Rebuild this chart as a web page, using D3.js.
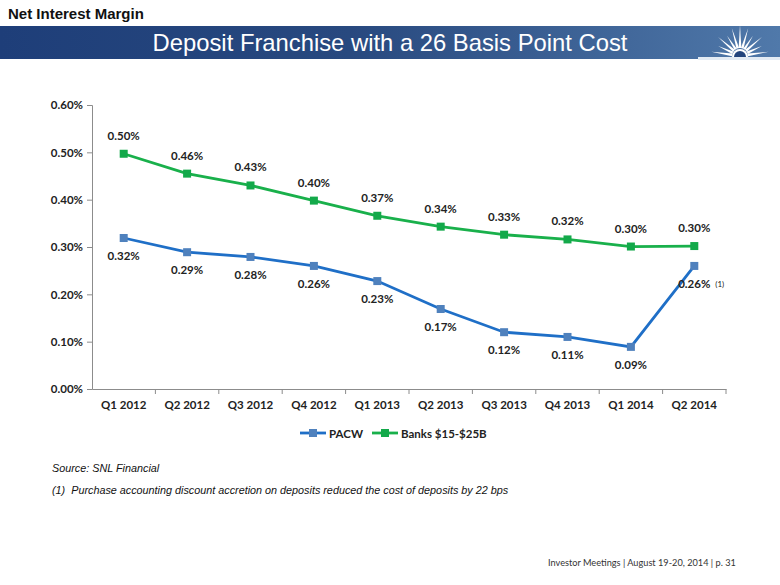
<!DOCTYPE html>
<html><head><meta charset="utf-8">
<script src="https://cdn.jsdelivr.net/npm/d3@7"></script>
<style>body{margin:0;background:#fff}svg{display:block}</style>
</head><body>
<svg id="c" width="780" height="585"></svg>
<script>
const categories = ["Q1 2012","Q2 2012","Q3 2012","Q4 2012","Q1 2013","Q2 2013","Q3 2013","Q4 2013","Q1 2014","Q2 2014"];
const pacw = [0.319,0.289,0.279,0.260,0.228,0.169,0.120,0.110,0.089,0.260];
const banks = [0.497,0.455,0.430,0.398,0.366,0.343,0.326,0.316,0.301,0.302];
const yTicks = [0,0.1,0.2,0.3,0.4,0.5,0.6];
const seriesNames = ["PACW","Banks $15-$25B"];

const svg = d3.select("#c");
const font = "Lato, 'Open Sans', sans-serif";

// banner
const defs = svg.append("defs");
const g1 = defs.append("linearGradient").attr("id","bn").attr("x1","0").attr("x2","1");
g1.append("stop").attr("offset","0").attr("stop-color","#1e3e79");
g1.append("stop").attr("offset","0.45").attr("stop-color","#28497f");
g1.append("stop").attr("offset","1").attr("stop-color","#5079aa");
svg.append("rect").attr("x",0).attr("y",26).attr("width",780).attr("height",33).attr("fill","url(#bn)");
svg.append("text").attr("x",8).attr("y",19).attr("font-family","Arial, 'Liberation Sans', sans-serif")
  .attr("font-size",15).attr("font-weight","bold").attr("fill","#111").text("Net Interest Margin");
svg.append("text").attr("x",390).attr("y",51).attr("text-anchor","middle")
  .attr("font-family","Arial, 'Liberation Sans', sans-serif").attr("font-size",23.8).attr("fill","#fff")
  .text("Deposit Franchise with a 26 Basis Point Cost");
// sunburst logo
const logo = svg.append("g").attr("transform","translate(740,56)");
const rays = d3.range(11).map(i => -Math.PI + (i+0.5)*Math.PI/11);
rays.forEach((a,i) => {
  const L = (i===5)?31:(i%2?24:29);
  const w = 0.17;
  logo.append("path").attr("d", `M${Math.cos(a-w)*8},${Math.sin(a-w)*8} L${Math.cos(a)*L},${Math.sin(a)*L} L${Math.cos(a+w)*8},${Math.sin(a+w)*8} Z`)
    .attr("fill","#fff");
});
logo.append("path").attr("d","M-8,1 A8,8 0 0 1 8,1 Z").attr("fill","#fff");
logo.append("path").attr("d","M-6,1 A6,6 0 0 1 6,1 Z").attr("fill","#24457d");
logo.append("rect").attr("x",-42).attr("y",1).attr("width",84).attr("height",3).attr("fill","#e3ebf4");

// chart
const x = d3.scaleBand().domain(categories).range([92,726]);
const y = d3.scaleLinear().domain([0,0.6]).range([389,105]);

const ya = svg.append("g").attr("transform","translate(92,0)")
  .call(d3.axisLeft(y).tickValues(yTicks).tickFormat(d=>d.toFixed(2)+"%").tickSize(5).tickPadding(4));
ya.select(".domain").attr("stroke","#8c8c8c");
ya.selectAll(".tick line").attr("stroke","#8c8c8c");
ya.selectAll("text").attr("font-family",font).attr("font-size",11.5).attr("font-weight","bold").attr("fill","#222");

const xa = svg.append("g").attr("transform","translate(0,389)")
  .call(d3.axisBottom(x).tickSize(0).tickPadding(12));
xa.select(".domain").attr("stroke","#8c8c8c");
xa.selectAll("text").attr("font-family",font).attr("font-size",11.5).attr("font-weight","bold").attr("fill","#222");
xa.selectAll(".sep").data(categories).enter().append("line").attr("class","sep")
  .attr("x1",d=>x(d)+x.bandwidth()).attr("x2",d=>x(d)+x.bandwidth()).attr("y1",0).attr("y2",5).attr("stroke","#8c8c8c");

const cx = d => x(d)+x.bandwidth()/2;
const fmt = v => v.toFixed(2)+"%";
const series = [
  {name:seriesNames[0], vals:pacw, line:"#1f6fc7", mark:"#4f81bd", dy:22},
  {name:seriesNames[1], vals:banks, line:"#19b04b", mark:"#13a94a", dy:-14}
];
const line = d3.line().x((d,i)=>cx(categories[i])).y(d=>y(d));
series.forEach(s => {
  svg.append("path").datum(s.vals).attr("d",line).attr("fill","none").attr("stroke",s.line).attr("stroke-width",2.8);
  svg.selectAll(null).data(s.vals).enter().append("rect")
    .attr("x",(d,i)=>cx(categories[i])-4).attr("y",d=>y(d)-4).attr("width",8).attr("height",8).attr("fill",s.mark);
  svg.selectAll(null).data(s.vals).enter().append("text")
    .attr("x",(d,i)=>cx(categories[i])).attr("y",d=>y(d)+s.dy).attr("text-anchor","middle")
    .attr("font-family",font).attr("font-size",11.5).attr("font-weight","bold").attr("fill","#222")
    .text(d=>fmt(d));
});
svg.append("text").attr("x",cx("Q2 2014")+21).attr("y",y(pacw[9])+21).attr("font-family",font)
  .attr("font-size",8).attr("fill","#222").text("(1)");

// legend
const leg = [{x:300, s:series[0]},{x:372, s:series[1]}];
leg.forEach(l => {
  const g = svg.append("g").attr("transform",`translate(${l.x},433)`);
  g.append("line").attr("x1",0).attr("x2",26).attr("stroke",l.s.line).attr("stroke-width",2.8);
  g.append("rect").attr("x",9).attr("y",-4).attr("width",8).attr("height",8).attr("fill",l.s.mark);
  g.append("text").attr("x",29).attr("y",4.5).attr("font-family",font).attr("font-size",11.5)
    .attr("font-weight","bold").attr("fill","#222").text(l.s.name);
});

// footnotes
const ff = "Arial, 'Liberation Sans', sans-serif";
svg.append("text").attr("x",52).attr("y",472).attr("font-family",ff).attr("font-size",10.8)
  .attr("font-style","italic").attr("fill","#111").text("Source: SNL Financial");
svg.append("text").attr("x",52).attr("y",494).attr("font-family",ff).attr("font-size",10.8)
  .attr("font-style","italic").attr("fill","#111").attr("xml:space","preserve")
  .text("(1)  Purchase accounting discount accretion on deposits reduced the cost of deposits by 22 bps");
svg.append("text").attr("x",548).attr("y",566).attr("font-family",font).attr("font-size",9.2)
  .attr("fill","#333").text("Investor Meetings | August 19-20, 2014 | p. 31");
</script>
</body></html>
